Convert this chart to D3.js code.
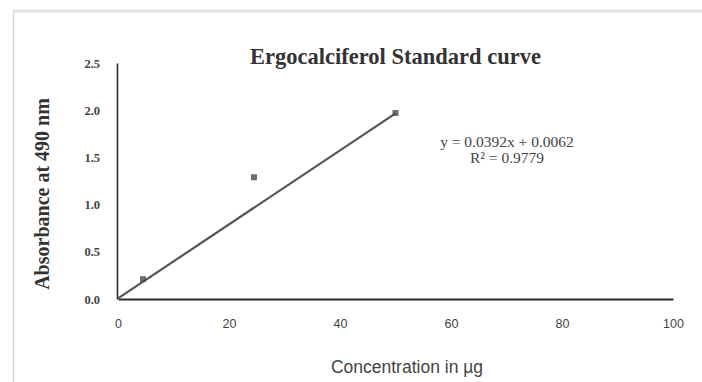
<!DOCTYPE html>
<html>
<head>
<meta charset="utf-8">
<script src="https://cdn.jsdelivr.net/npm/d3@7"></script>
<style>
  html, body { margin: 0; padding: 0; background: #fff; }
  svg { display: block; }
</style>
</head>
<body>
<svg id="chart" width="702" height="382"></svg>
<script>
// Standard curve readings: concentration (µg) vs absorbance at 490 nm
const concentration = [4.5, 24.5, 50];
const absorbance = [0.21, 1.29, 1.97];

// Linear trendline reported on the chart
const trendSlope = 0.0392;
const trendIntercept = 0.0062;
const trendRange = [0, 50];
const equationLines = ["y = 0.0392x + 0.0062", "R\u00b2 = 0.9779"];

const xTicks = [0, 20, 40, 60, 80, 100];
const yTicks = [0, 0.5, 1.0, 1.5, 2.0, 2.5];

const title = "Ergocalciferol Standard curve";
const xTitle = "Concentration in \u00b5g";
const yTitle = "Absorbance at 490 nm";

const svg = d3.select("#chart");

// chart frame
svg.append("line").attr("x1", 13.5).attr("x2", 13.5).attr("y1", 10).attr("y2", 382)
  .attr("stroke", "#d6d6d6").attr("stroke-width", 1.5);
svg.append("line").attr("x1", 13).attr("x2", 702).attr("y1", 11).attr("y2", 11)
  .attr("stroke", "#e2e2e2").attr("stroke-width", 3);

const x = d3.scaleLinear().domain([0, 100]).range([118, 673]);
const y = d3.scaleLinear().domain([0, 2.5]).range([299, 63]);

// axes
const xAxis = d3.axisBottom(x).tickValues(xTicks).tickSize(0).tickPadding(20).tickFormat(d3.format("d"));
const gx = svg.append("g").attr("transform", `translate(0,${y(0)})`).call(xAxis);
gx.select(".domain").attr("stroke", "#2a2a2a").attr("stroke-width", 2.2);
gx.selectAll("text").attr("font-family", "Liberation Sans, Arial, sans-serif")
  .attr("font-size", 12.5).attr("fill", "#444");

const yAxis = d3.axisLeft(y).tickValues(yTicks).tickSize(0).tickPadding(17).tickFormat(d3.format(".1f"));
const gy = svg.append("g").attr("transform", `translate(${x(0) - 1},0)`).call(yAxis);
gy.select(".domain").attr("stroke", "#2a2a2a").attr("stroke-width", 1.6);
gy.selectAll("text").attr("font-family", "Liberation Serif, Times New Roman, serif")
  .attr("font-weight", "bold").attr("font-size", 12.5).attr("fill", "#444");

// trendline
const line = d3.line().x(d => x(d)).y(d => y(trendSlope * d + trendIntercept));
svg.append("path").datum(trendRange).attr("d", line)
  .attr("fill", "none").attr("stroke", "#555").attr("stroke-width", 2.2);

// data markers
svg.selectAll("rect.pt").data(concentration).enter().append("rect")
  .attr("class", "pt")
  .attr("x", d => x(d) - 3).attr("y", (d, i) => y(absorbance[i]) - 3)
  .attr("width", 6).attr("height", 6)
  .attr("fill", "#4a4a4a").attr("opacity", 0.8);

// title
svg.append("text").attr("x", (x(0) + x(100)) / 2).attr("y", 64)
  .attr("text-anchor", "middle")
  .attr("font-family", "Liberation Serif, Times New Roman, serif")
  .attr("font-weight", "bold").attr("font-size", 22.5).attr("fill", "#333")
  .text(title);

// axis titles
svg.append("text").attr("x", 407).attr("y", 373)
  .attr("text-anchor", "middle")
  .attr("font-family", "Liberation Sans, Arial, sans-serif")
  .attr("font-size", 17.5).attr("fill", "#444")
  .text(xTitle);

svg.append("text")
  .attr("transform", `translate(49,194) rotate(-90)`)
  .attr("text-anchor", "middle")
  .attr("font-family", "Liberation Serif, Times New Roman, serif")
  .attr("font-weight", "bold").attr("font-size", 20).attr("fill", "#333")
  .text(yTitle);

// equation label
svg.append("g").selectAll("text").data(equationLines).enter().append("text")
  .attr("x", 507).attr("y", (d, i) => 147 + i * 16)
  .attr("text-anchor", "middle")
  .attr("font-family", "Liberation Serif, Times New Roman, serif")
  .attr("font-size", 15.5).attr("fill", "#444")
  .text(d => d);
</script>
</body>
</html>
